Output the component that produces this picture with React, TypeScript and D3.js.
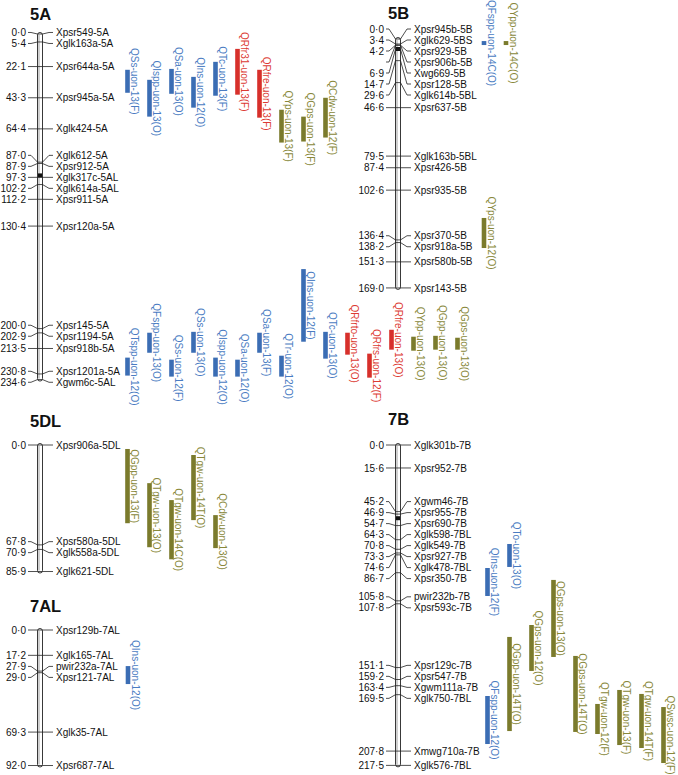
import React from "react";
import * as d3 from "d3";

// ---------- data ----------
const chromosomes = ["5A", "5B", "5DL", "7AL", "7B"];

const markers5A = ["Xpsr549-5A","Xglk163a-5A","Xpsr644a-5A","Xpsr945a-5A","Xglk424-5A","Xglk612-5A","Xpsr912-5A","Xglk317c-5AL","Xglk614a-5AL","Xpsr911-5A","Xpsr120a-5A","Xpsr145-5A","Xpsr1194-5A","Xpsr918b-5A","Xpsr1201a-5A","Xgwm6c-5AL"];
const pos5A = [0.0,5.4,22.1,43.3,64.4,87.0,87.9,97.3,102.2,112.2,130.4,200.0,202.9,213.5,230.8,234.6];

const markers5B = ["Xpsr945b-5B","Xglk629-5BS","Xpsr929-5B","Xpsr906b-5B","Xwg669-5B","Xpsr128-5B","Xglk614b-5BL","Xpsr637-5B","Xglk163b-5BL","Xpsr426-5B","Xpsr935-5B","Xpsr370-5B","Xpsr918a-5B","Xpsr580b-5B","Xpsr143-5B"];
const pos5B = [0.0,3.4,4.2,4.2,6.9,14.7,29.6,46.6,79.5,87.4,102.6,136.4,138.2,151.3,169.0];
const showPos5B = [true,true,true,false,true,true,true,true,true,true,true,true,true,true,true];

const markers5DL = ["Xpsr906a-5DL","Xpsr580a-5DL","Xglk558a-5DL","Xglk621-5DL"];
const pos5DL = [0.0,67.8,70.9,85.9];

const markers7AL = ["Xpsr129b-7AL","Xglk165-7AL","pwir232a-7AL","Xpsr121-7AL","Xglk35-7AL","Xpsr687-7AL"];
const pos7AL = [0.0,17.2,27.9,29.0,69.3,92.0];

const markers7B = ["Xglk301b-7B","Xpsr952-7B","Xgwm46-7B","Xpsr955-7B","Xpsr690-7B","Xglk598-7BL","Xglk549-7B","Xpsr927-7B","Xglk478-7BL","Xpsr350-7B","pwir232b-7B","Xpsr593c-7B","Xpsr129c-7B","Xpsr547-7B","Xgwm111a-7B","Xglk750-7BL","Xmwg710a-7B","Xglk576-7BL"];
const pos7B = [0.0,15.6,45.2,46.9,54.7,64.3,70.8,73.3,74.6,86.7,105.8,107.8,151.1,159.2,163.4,169.5,207.8,217.5];

const centromeres = [96.0, 6.8, null, null, 49.7];

// QTL: chromosome, column, start cM, end cM, name, trait group
const qtlChrom = ["5A","5A","5A","5A","5A","5A","5A","5A","5A","5A",
  "5A","5A","5A","5A","5A","5A","5A","5A","5A","5A","5A","5A","5A","5A","5A","5A",
  "5B","5B","5B",
  "5DL","5DL","5DL","5DL","5DL",
  "7AL",
  "7B","7B","7B","7B","7B","7B","7B","7B","7B","7B","7B"];
const qtlCol = [0,1,2,3,4,5,6,7,8,9,
  0,1,2,3,4,5,6,7,8,9,10,11,12,13,14,15,
  0,1,0,
  0,1,2,3,4,
  0,
  1,0,0,1,2,3,4,5,6,7,8];
const qtlStart = [24.3,31.1,23.7,29.1,18.9,10.1,24.3,51.4,56.1,43.3,
  219.7,202.8,221.1,202.2,219.7,221.1,202.8,218.4,159.6,202.2,202.8,217.0,200.8,205.5,204.9,206.2,
  1.4,1.4,121.5,
  2.7,25.9,37.4,6.8,47.6,
  24.5,
  67.2,83.5,170.4,130.3,122.2,91.6,143.2,175.8,166.3,169.0,177.9];
const qtlEnd = [39.9,56.1,40.6,50.0,41.9,41.2,56.8,73.7,73.0,70.3,
  231.9,216.4,232.6,216.4,232.6,232.6,216.4,232.6,208.9,220.4,217.7,233.3,214.3,215.0,214.3,214.3,
  4.1,4.1,141.9,
  53.1,69.4,77.6,51.0,70.0,
  36.7,
  82.8,102.5,203.0,194.2,153.4,143.9,194.8,196.2,203.7,205.7,215.9];
const qtlName = ["QSs-uon-13(F)","QIspp-uon-13(O)","QSa-uon-13(O)","QIns-uon-12(O)","QTc-uon-13(F)","QRfr31-uon-13(F)","QRfre-uon-13(F)","QYps-uon-13(F)","QGps-uon-13(F)","QCdw-uon-12(F)",
  "QTspp-uon-12(O)","QFspp-uon-13(O)","QSs-uon-12(F)","QSs-uon-13(O)","QIspp-uon-12(O)","QSa-uon-12(O)","QSa-uon-13(F)","QTr-uon-12(O)","QIns-uon-12(F)","QTc-uon-13(O)","QRfrto-uon-13(O)","QRfrs-uon-12(F)","QRfre-uon-13(O)","QYpp-uon-13(O)","QGpp-uon-13(O)","QGps-uon-13(O)",
  "QFspp-uon-14C(O)","QYpp-uon-14C(O)","QYps-uon-12(O)",
  "QGpp-uon-13(F)","QTgw-uon-13(O)","QTgw-uon-14C(O)","QTgw-uon-14T(O)","QCdw-uon-13(O)",
  "QIns-uon-12(O)",
  "QTo-uon-13(O)","QIns-uon-12(F)","QFspp-uon-12(O)","QGpp-uon-14T(O)","QGps-uon-12(O)","QGps-uon-13(O)","QGps-uon-14T(O)","QTgw-uon-12(F)","QTgw-uon-13(F)","QTgw-uon-14T(F)","QSwsc-uon-12(F)"];
const qtlGroup = ["b","b","b","b","b","r","r","g","g","g",
  "b","b","b","b","b","b","b","b","b","b","r","r","r","g","g","g",
  "b","g","g",
  "g","g","g","g","g",
  "b",
  "b","b","b","g","g","g","g","g","g","g","g"];

// ---------- layout ----------
const W = 678, H = 775;
const PX_PER_CM = 1.473;
const layoutCx = [40, 398, 40, 40, 398];
const layoutTop = [34, 39, 445, 630, 445];
const layoutTitleY = [20, 19, 427, 612, 425];
const layoutCol0 = [87.5, 86, 87.5, 88, 89.5];
const COL_STEP = 22;
const LABEL_GAP = 11;

const groupColor: Record<string, string> = { b: "#3b6db4", r: "#d7302b", g: "#7b7b2c" };
const groupText: Record<string, string> = { b: "#4a7cc2", r: "#dc3b33", g: "#88883a" };

const markerSets = [markers5A, markers5B, markers5DL, markers7AL, markers7B];
const posSets = [pos5A, pos5B, pos5DL, pos7AL, pos7B];

const fmt = (v: number) => d3.format(".1f")(v).replace(".", "\u00b7");

function spread(trues: number[], gap: number, minY: number): number[] {
  type G = { idx: number[]; start: number };
  const calc = (idx: number[]) => {
    const m = d3.mean(idx, (i) => trues[i]) as number;
    return Math.max(minY, m - ((idx.length - 1) * gap) / 2);
  };
  let groups: G[] = trues.map((_, i) => ({ idx: [i], start: calc([i]) }));
  let changed = true;
  while (changed) {
    changed = false;
    for (let i = 1; i < groups.length; i++) {
      const p = groups[i - 1];
      if (groups[i].start < p.start + p.idx.length * gap - 0.01) {
        const idx = p.idx.concat(groups[i].idx);
        groups.splice(i - 1, 2, { idx, start: calc(idx) });
        changed = true;
        break;
      }
    }
  }
  const out = new Array(trues.length).fill(0);
  groups.forEach((g) => g.idx.forEach((id, k) => (out[id] = g.start + k * gap)));
  return out;
}

const FONT = "'Liberation Sans', Arial, Helvetica, sans-serif";

function Chromosome({ ci }: { ci: number }) {
  const cx = layoutCx[ci];
  const top = layoutTop[ci];
  const pos = posSets[ci];
  const names = markerSets[ci];
  const len = d3.max(pos) as number;
  const y = d3.scaleLinear().domain([0, len]).range([top, top + len * PX_PER_CM]);
  const trues = pos.map((p) => y(p));
  const labY = spread(trues, LABEL_GAP, top - 10);
  const hw = 2.5;
  const cen = centromeres[ci];
  return (
    <g>
      <text x={cx - 10} y={layoutTitleY[ci]} fontFamily={FONT} fontWeight="bold" fontSize={16.5} fill="#111">
        {chromosomes[ci]}
      </text>
      <rect x={cx - hw} y={top - 1.5} width={hw * 2} height={len * PX_PER_CM + 3} rx={hw} ry={hw}
        fill="#fff" stroke="#222" strokeWidth={0.9} />
      <line x1={cx - 1} x2={cx - 1} y1={top + 1} y2={top + len * PX_PER_CM - 1} stroke="#bdbdbd" strokeWidth={1.4} />
      {cen != null && (
        <rect x={cx - 2} y={y(cen) - 2} width={4} height={4} fill="#111" />
      )}
      {pos.map((p, i) => {
        const ty = trues[i];
        const ly = labY[i];
        const d = `M${cx - 12},${ly} L${cx - 9},${ly} L${cx - hw},${ty} L${cx + hw},${ty} L${cx + 9},${ly} L${cx + 13},${ly}`;
        const showNum = ci === 1 ? showPos5B[i] : true;
        return (
          <g key={i}>
            <path d={d} fill="none" stroke="#222" strokeWidth={0.8} />
            {showNum && (
              <text x={cx - 14} y={ly + 3.6} textAnchor="end" fontFamily={FONT} fontSize={10} fill="#111">
                {fmt(p)}
              </text>
            )}
            <text x={cx + 16} y={ly + 3.6} fontFamily={FONT} fontSize={10} fill="#111">
              {names[i]}
            </text>
          </g>
        );
      })}
    </g>
  );
}

function QTLs() {
  const BW = 4.6;
  return (
    <g>
      {qtlName.map((nm, i) => {
        const ci = chromosomes.indexOf(qtlChrom[i]);
        const top = layoutTop[ci];
        const len = d3.max(posSets[ci]) as number;
        const y = d3.scaleLinear().domain([0, len]).range([top, top + len * PX_PER_CM]);
        const xc = layoutCx[ci] + layoutCol0[ci] + qtlCol[i] * COL_STEP;
        const y0 = y(qtlStart[i]);
        const y1 = y(qtlEnd[i]);
        const g = qtlGroup[i];
        const tx = xc + BW / 2 + 1.6;
        const tyc = (y0 + y1) / 2;
        return (
          <g key={i}>
            <rect x={xc - BW / 2} y={y0} width={BW} height={y1 - y0} fill={groupColor[g]} />
            <text x={tx} y={tyc} transform={`rotate(90 ${tx} ${tyc})`} textAnchor="middle"
              fontFamily={FONT} fontSize={10} fill={groupText[g]}>
              {nm}
            </text>
          </g>
        );
      })}
    </g>
  );
}

export default function App() {
  return (
    <svg width={W} height={H} viewBox={`0 0 ${W} ${H}`}
      style={{ position: "absolute", left: 0, top: 0, background: "#fff" }}>
      <rect width={W} height={H} fill="#fff" />
      {chromosomes.map((_, ci) => (
        <Chromosome key={ci} ci={ci} />
      ))}
      <QTLs />
    </svg>
  );
}
